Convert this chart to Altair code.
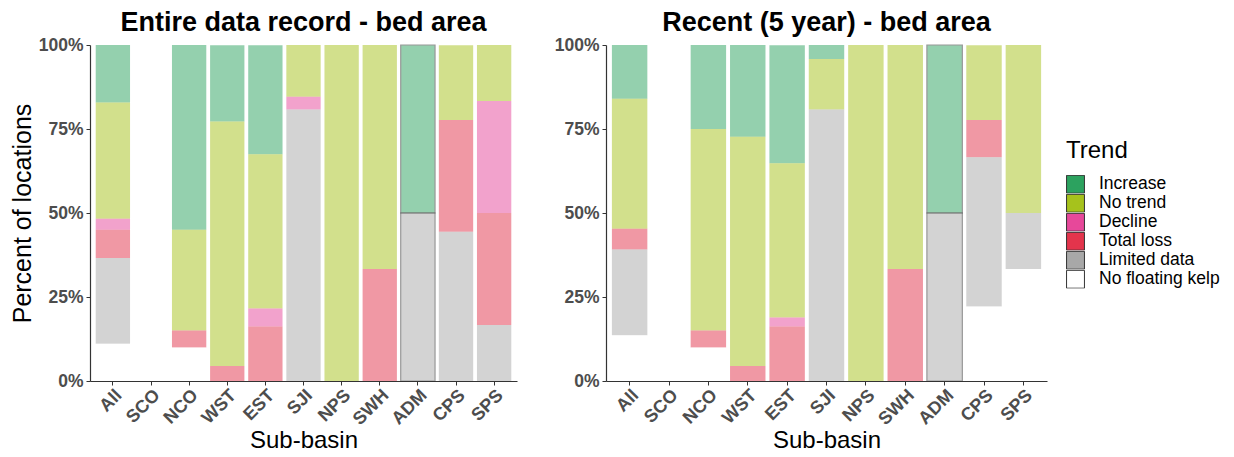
import altair as alt
import pandas as pd

subbasins = ["All", "SCO", "NCO", "WST", "EST", "SJI", "NPS", "SWH", "ADM", "CPS", "SPS"]
trends = ["Increase", "No trend", "Decline", "Total loss", "Limited data", "No floating kelp"]
trend_colors = ["#2ca25f", "#a6c21c", "#e7489a", "#e3344c", "#a8a8a8", "#ffffff"]

# Entire data record (percent of locations)
entire_increase = [17.1, 0, 55, 22.7, 32.4, 0, 0, 0, 50, 0, 0]
entire_no_trend = [34.6, 0, 30, 72.7, 45.9, 15.4, 100, 66.7, 0, 22.2, 16.7]
entire_decline = [3.3, 0, 0, 0, 5.4, 3.8, 0, 0, 0, 0, 33.3]
entire_total_loss = [8.4, 0, 5, 4.5, 16.2, 0, 0, 33.3, 0, 33.3, 33.3]
entire_limited = [25.5, 0, 0, 0, 0, 80.8, 0, 0, 50, 44.4, 16.7]
entire_no_kelp = [11.1, 100, 10, 0, 0, 0, 0, 0, 0, 0, 0]

# Recent (5 year)
recent_increase = [16.0, 0, 25, 27.3, 35.1, 4.2, 0, 0, 50, 0, 0]
recent_no_trend = [38.7, 0, 60, 68.2, 45.9, 15.0, 100, 66.7, 0, 22.2, 50]
recent_decline = [0, 0, 0, 0, 2.7, 0, 0, 0, 0, 0, 0]
recent_total_loss = [6.2, 0, 5, 4.5, 16.2, 0, 0, 33.3, 0, 11.1, 0]
recent_limited = [25.5, 0, 0, 0, 0, 80.8, 0, 0, 50, 44.4, 16.7]
recent_no_kelp = [13.6, 100, 10, 0, 0, 0, 0, 0, 0, 22.2, 33.3]

FONT = "Liberation Sans"


def build(series):
    rows = []
    for t, vals in zip(trends, series):
        rank = len(trends) - trends.index(t)
        for b, v in zip(subbasins, vals):
            if v > 0:
                rows.append({"Sub-basin": b, "Trend": t, "pct": v / 100.0, "rank": rank})
    return pd.DataFrame(rows)


entire_df = build([entire_increase, entire_no_trend, entire_decline,
                   entire_total_loss, entire_limited, entire_no_kelp])
recent_df = build([recent_increase, recent_no_trend, recent_decline,
                   recent_total_loss, recent_limited, recent_no_kelp])

legend = alt.Legend(
    title="Trend", orient="none", legendX=976, legendY=94,
    titleFontSize=24, titleFontWeight="normal", titleFont=FONT, titleColor="black",
    labelFontSize=17.5, labelFont=FONT, labelColor="black", labelOffset=14,
    symbolType="square", symbolSize=320, symbolOpacity=1,
    symbolStrokeColor="#333333", symbolStrokeWidth=1,
    rowPadding=0, clipHeight=18.5, titlePadding=12,
)


def panel(df, title, width, show_ytitle):
    return alt.Chart(df).mark_bar(opacity=0.5, strokeWidth=1.2).encode(
        x=alt.X("Sub-basin:N", sort=subbasins,
                scale=alt.Scale(domain=subbasins, paddingInner=0.1, paddingOuter=0.15),
                axis=alt.Axis(title="Sub-basin", labelAngle=-45, labelFontSize=18,
                              labelFontWeight="bold", labelColor="#4d4d4d", labelFont=FONT,
                              titleFontSize=24, titleFontWeight="normal", titleFont=FONT,
                              titleColor="black", tickSize=4, labelPadding=1, titlePadding=0)),
        y=alt.Y("pct:Q", stack="zero",
                scale=alt.Scale(domain=[0, 1], nice=False),
                axis=alt.Axis(title="Percent of locations" if show_ytitle else "",
                              format=".0%", values=[0, 0.25, 0.5, 0.75, 1],
                              labelFontSize=17.5, labelFontWeight="bold", labelColor="#4d4d4d",
                              labelFont=FONT, titleFontSize=25, titleFontWeight="normal",
                              titleFont=FONT, titleColor="black", grid=False,
                              tickSize=4, labelPadding=3, titlePadding=3)),
        color=alt.Color("Trend:N", scale=alt.Scale(domain=trends, range=trend_colors),
                        legend=legend),
        order=alt.Order("rank:Q", sort="ascending"),
        stroke=alt.condition(alt.datum["Sub-basin"] == "ADM",
                             alt.value("#333333"), alt.value("transparent")),
    ).properties(
        width=width, height=336,
        title=alt.TitleParams(title, fontSize=27, fontWeight="bold", font=FONT,
                              color="black", anchor="middle", offset=-1),
    )


left = panel(entire_df, "Entire data record - bed area", 427, True)
right = panel(recent_df, "Recent (5 year) - bed area", 441, False)

chart = alt.hconcat(left, right, spacing=37).configure_view(stroke=None).configure_axis(
    domainColor="#333333", tickColor="#333333", domainWidth=1.2
).properties(padding={"left": 2, "top": 1, "right": 0, "bottom": 0})

chart.save("out.html", embed_options={"renderer": "svg", "actions": False})
